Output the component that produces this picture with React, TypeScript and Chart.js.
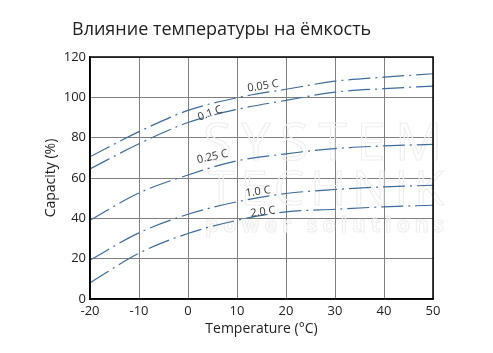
import React, { useEffect, useRef } from "react";
import { Chart, registerables } from "chart.js";

Chart.register(...registerables);

const TITLE = "Влияние температуры на ёмкость";
const X_TITLE = "Temperature (°C)";
const Y_TITLE = "Capacity (%)";
const WATERMARK = ["SYSTEM", "TECHNIK", "power solutions"];

const temperatures = [-20, -10, 0, 10, 20, 30, 40, 50];
const c005 = [70.5, 83, 93.5, 99.8, 104, 108, 110, 111.7];
const c01 = [64.5, 77, 87.5, 94, 98.5, 102.6, 104.3, 105.6];
const c025 = [39, 52.6, 61.5, 68.5, 72, 74.6, 75.9, 76.7];
const c10 = [19.3, 32.8, 42, 48.2, 52.3, 54.3, 55.6, 56.4];
const c20 = [8, 22.7, 32.5, 39, 43.2, 44.5, 45.7, 46.5];

const seriesNames = ["0.05 C", "0.1 C", "0.25 C", "1.0 C", "2.0 C"];
const seriesValues = [c005, c01, c025, c10, c20];

// curve labels: [text, x (°C), y (%), angle (deg)]
const curveLabels: [string, number, number, number][] = [
  ["0.05 C", 15.3, 105.6, -9],
  ["0.1 C", 4.5, 92, -20],
  ["0.25 C", 5.0, 70.5, -12],
  ["1.0 C", 14.3, 53.2, -8],
  ["2.0 C", 15.3, 43.2, -8],
];

const LINE_COLOR = "#3d6c9e";
const FONT = "'Open Sans', Lato, sans-serif";

function spacedText(ctx: CanvasRenderingContext2D, text: string, x0: number, x1: number, y: number) {
  const chars = text.split("");
  const widths = chars.map((c) => ctx.measureText(c).width);
  const total = widths.reduce((a, b) => a + b, 0);
  const gap = chars.length > 1 ? (x1 - x0 - total) / (chars.length - 1) : 0;
  let x = x0;
  chars.forEach((c, i) => {
    ctx.strokeText(c, x, y);
    x += widths[i] + gap;
  });
}

export default function App() {
  const ref = useRef<HTMLCanvasElement | null>(null);

  useEffect(() => {
    if (!ref.current) return;
    const overlay = {
      id: "overlay",
      beforeDatasetsDraw(chart: any) {
        const { ctx } = chart;
        ctx.save();
        ctx.strokeStyle = "#efefef";
        ctx.lineWidth = 1.2;
        ctx.textBaseline = "alphabetic";
        ctx.textAlign = "left";
        ctx.font = `52px ${FONT}`;
        spacedText(ctx, WATERMARK[0], 203, 442, 160);
        ctx.font = `48px ${FONT}`;
        spacedText(ctx, WATERMARK[1], 208, 444, 205);
        ctx.font = `bold 21px ${FONT}`;
        spacedText(ctx, WATERMARK[2], 205, 444, 232);
        ctx.restore();
      },
      afterDatasetsDraw(chart: any) {
        const { ctx, chartArea, scales } = chart;
        ctx.save();
        ctx.strokeStyle = "#000";
        ctx.lineWidth = 1.5;
        ctx.strokeRect(chartArea.left, chartArea.top, chartArea.right - chartArea.left, chartArea.bottom - chartArea.top);
        ctx.fillStyle = "#333";
        ctx.font = `11px ${FONT}`;
        ctx.textAlign = "center";
        ctx.textBaseline = "middle";
        curveLabels.forEach(([t, x, y, a]) => {
          const px = scales.x.getPixelForValue(x);
          const py = scales.y.getPixelForValue(y);
          ctx.save();
          ctx.translate(px, py);
          ctx.rotate((a * Math.PI) / 180);
          ctx.fillText(t, 0, 0);
          ctx.restore();
        });
        ctx.fillStyle = "#222";
        ctx.font = `18px ${FONT}`;
        ctx.textAlign = "left";
        ctx.textBaseline = "middle";
        ctx.fillText(TITLE, 72, 30);
        ctx.restore();
      },
    };

    const chart = new Chart(ref.current, {
      type: "line",
      data: {
        datasets: seriesNames.map((name, i) => ({
          label: name,
          data: temperatures.map((t, j) => ({ x: t, y: seriesValues[i][j] })),
          borderColor: LINE_COLOR,
          borderWidth: 1.2,
          borderDash: [22, 5, 2, 5],
          pointRadius: 0,
          fill: false,
          cubicInterpolationMode: "monotone" as const,
        })),
      },
      options: {
        responsive: false,
        animation: false,
        layout: { padding: { top: 57, right: 60, bottom: 10, left: 30 } },
        plugins: {
          legend: { display: false },
          tooltip: { enabled: false },
          title: { display: false },
        },
        scales: {
          x: {
            type: "linear",
            min: -20,
            max: 50,
            ticks: { stepSize: 10, color: "#222", font: { size: 13, family: FONT }, padding: 4 },
            grid: { color: "#808080", lineWidth: 1, drawTicks: false },
            border: { color: "#000", width: 1.5 },
            title: { display: true, text: X_TITLE, color: "#222", font: { size: 14, family: FONT }, padding: { top: 0, bottom: 6 } },
            afterFit: (s: any) => { s.height = 44; },
          },
          y: {
            min: 0,
            max: 120,
            ticks: { stepSize: 20, color: "#222", font: { size: 13, family: FONT }, padding: 4 },
            grid: { color: "#808080", lineWidth: 1, drawTicks: false },
            border: { color: "#000", width: 1.5 },
            title: { display: true, text: Y_TITLE, color: "#222", font: { size: 14, family: FONT }, padding: { top: 13, bottom: 0 } },
            afterFit: (s: any) => { s.width = 60; },
          },
        },
      },
      plugins: [overlay],
    });
    return () => chart.destroy();
  }, []);

  return (
    <div style={{ position: "absolute", left: 0, top: 0, width: 493, height: 353, background: "#fff" }}>
      <canvas ref={ref} width={493} height={353} style={{ width: 493, height: 353 }} />
    </div>
  );
}
